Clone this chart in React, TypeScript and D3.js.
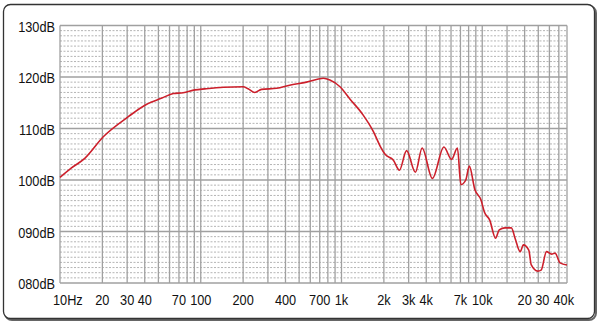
import React, { useEffect, useRef } from 'react';
import * as d3 from 'd3';

// response curve (Hz / dB SPL)
const freqs = [10, 12, 15, 20.3, 30.6, 41.3, 52.9, 63.9, 75, 91, 107, 145, 200, 217, 242, 270, 346, 428, 565, 684, 742, 827, 975, 1150, 1426, 1685, 1888, 2040, 2330, 2580, 2900, 3350, 3740, 4420, 5340, 6050, 6660, 7050, 7640, 8090, 8870, 9800, 10350, 11300, 12430, 13200, 14500, 16100, 17100, 18600, 19600, 21400, 22300, 24800, 26200, 28600, 31100, 32900, 35700, 40000];
const levels = [100.5, 102.3, 104.2, 108.4, 112.3, 114.7, 115.9, 116.8, 116.95, 117.5, 117.7, 118.0, 118.1, 117.7, 117.0, 117.6, 117.8, 118.4, 119.0, 119.6, 119.75, 119.4, 118.1, 115.7, 112.6, 109.4, 106.5, 105.0, 103.9, 101.9, 105.7, 101.5, 106.2, 100.3, 106.4, 104.0, 106.2, 99.1, 100.0, 102.7, 98.1, 96.1, 93.8, 92.2, 88.7, 90.3, 90.7, 90.7, 88.7, 86.1, 87.4, 86.4, 83.5, 82.3, 82.5, 86.1, 85.6, 85.8, 83.9, 83.5];

// grid and tick labels
const gridFreqs = [10, 20, 30, 40, 50, 60, 70, 80, 90, 100, 200, 300, 400, 500, 600, 700, 800, 900, 1000, 2000, 3000, 4000, 5000, 6000, 7000, 8000, 9000, 10000, 15000, 20000, 25000, 30000, 35000, 40000];
const xTickFreqs = [10, 20, 30, 40, 70, 100, 200, 400, 700, 1000, 2000, 3000, 4000, 7000, 10000, 20000, 30000, 40000];
const xTickLabels = ['10Hz', '20', '30', '40', '70', '100', '200', '400', '700', '1k', '2k', '3k', '4k', '7k', '10k', '20', '30', '40k'];
const yTicks = [130, 120, 110, 100, 90, 80];
const yTickLabels = ['130dB', '120dB', '110dB', '100dB', '090dB', '080dB'];

const W = 600;
const H = 325;
const FONT = '"Liberation Sans", Arial, sans-serif';
const SQUEEZE = 0.85; // the labels use a narrow face, so squash Arial a bit

const App = () => {
  const svgRef = useRef<SVGSVGElement>(null);

  useEffect(() => {
    const svg = d3.select(svgRef.current);
    svg.selectAll('*').remove();

    const x = d3.scaleLog().domain([10, 40000]).range([60, 567]);
    const y = d3.scaleLinear().domain([80, 130]).range([283, 25.5]);

    // frame with a little shadow bottom-right
    svg.append('rect')
      .attr('x', 5).attr('y', 6)
      .attr('width', 591).attr('height', 314)
      .attr('rx', 7)
      .attr('fill', 'none')
      .attr('stroke', '#666')
      .attr('stroke-width', 2);
    svg.append('rect')
      .attr('x', 3.5).attr('y', 4.5)
      .attr('width', 591).attr('height', 314)
      .attr('rx', 7)
      .attr('fill', '#fff')
      .attr('stroke', '#333')
      .attr('stroke-width', 1.3);

    const grid = svg.append('g');

    // 1 dB dotted lines
    const minor = d3.range(80, 131).filter(d => d % 10 !== 0);
    grid.selectAll('.minor')
      .data(minor)
      .enter()
      .append('line')
      .attr('x1', x(10)).attr('x2', x(40000))
      .attr('y1', d => y(d)).attr('y2', d => y(d))
      .attr('stroke', '#b4b4b4')
      .attr('stroke-width', 1)
      .attr('stroke-dasharray', '2,1.5');

    grid.selectAll('.vline')
      .data(gridFreqs)
      .enter()
      .append('line')
      .attr('x1', d => x(d)).attr('x2', d => x(d))
      .attr('y1', y(130)).attr('y2', y(80))
      .attr('stroke', '#a0a0a0')
      .attr('stroke-width', 1.3);

    grid.selectAll('.hline')
      .data(yTicks)
      .enter()
      .append('line')
      .attr('x1', x(10)).attr('x2', x(40000))
      .attr('y1', d => y(d)).attr('y2', d => y(d))
      .attr('stroke', '#a0a0a0')
      .attr('stroke-width', 1.3);

    // y labels
    svg.selectAll('.ylab')
      .data(yTicks)
      .enter()
      .append('text')
      .attr('transform', d => `translate(55,${y(d) + 6}) scale(${SQUEEZE},1)`)
      .attr('text-anchor', 'end')
      .attr('font-family', FONT)
      .attr('font-size', '15px')
      .attr('fill', '#111')
      .text((d, i) => yTickLabels[i]);

    // x labels: first hangs right of its line, the last two end at theirs
    const last = xTickFreqs.length - 1;
    const shift = (i: number) => (i === 0 ? -7 : i === last ? 7 : 0);
    const anchor = (i: number) => (i === 0 ? 'start' : i >= last - 1 ? 'end' : 'middle');
    svg.selectAll('.xlab')
      .data(xTickFreqs)
      .enter()
      .append('text')
      .attr('transform', (d, i) => `translate(${x(d) + shift(i)},305) scale(${SQUEEZE},1)`)
      .attr('text-anchor', (d, i) => anchor(i))
      .attr('font-family', FONT)
      .attr('font-size', '15px')
      .attr('fill', '#111')
      .text((d, i) => xTickLabels[i]);

    // the response curve
    const line = d3.line<number>()
      .x((d, i) => x(freqs[i]))
      .y(d => y(d))
      .curve(d3.curveMonotoneX);

    svg.append('path')
      .attr('d', line(levels))
      .attr('fill', 'none')
      .attr('stroke', '#cc1f2b')
      .attr('stroke-width', 1.6)
      .attr('stroke-linejoin', 'round');
  }, []);

  return (
    <svg
      ref={svgRef}
      width={W}
      height={H}
      style={{ position: 'absolute', left: 0, top: 0, background: '#fff' }}
    />
  );
};

export default App;
